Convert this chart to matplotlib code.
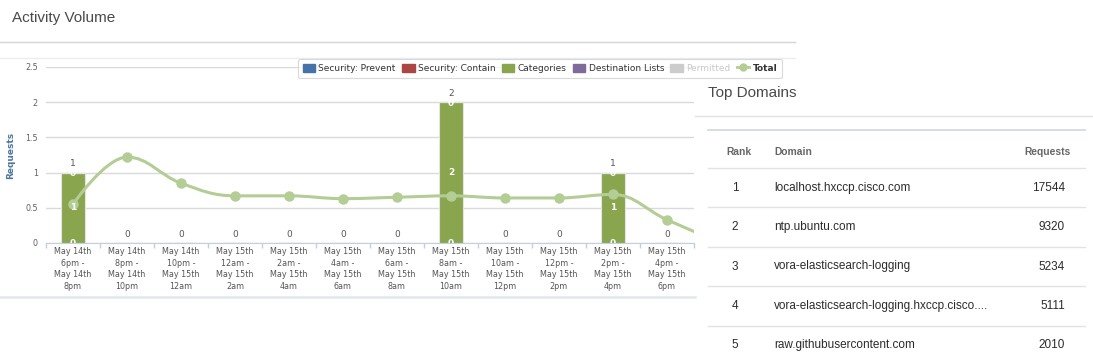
import numpy as np
import matplotlib
matplotlib.use('Agg')
import matplotlib.pyplot as plt
from matplotlib.path import Path
from matplotlib.patches import PathPatch, Patch
from matplotlib.lines import Line2D

# screenshot size in pixels
W, H = 1093, 361

# activity volume chart data
time_slots = ['May 14th\n6pm -\nMay 14th\n8pm', 'May 14th\n8pm -\nMay 14th\n10pm',
              'May 14th\n10pm -\nMay 15th\n12am', 'May 15th\n12am -\nMay 15th\n2am',
              'May 15th\n2am -\nMay 15th\n4am', 'May 15th\n4am -\nMay 15th\n6am',
              'May 15th\n6am -\nMay 15th\n8am', 'May 15th\n8am -\nMay 15th\n10am',
              'May 15th\n10am -\nMay 15th\n12pm', 'May 15th\n12pm -\nMay 15th\n2pm',
              'May 15th\n2pm -\nMay 15th\n4pm', 'May 15th\n4pm -\nMay 15th\n6pm']
security_prevent = [0, 0, 0, 0, 0, 0, 0, 0, 0, 0, 0, 0]
security_contain = [0, 0, 0, 0, 0, 0, 0, 0, 0, 0, 0, 0]
categories = [1, 0, 0, 0, 0, 0, 0, 2, 0, 0, 1, 0]
destination_lists = [0, 0, 0, 0, 0, 0, 0, 0, 0, 0, 0, 0]
permitted = [0, 0, 0, 0, 0, 0, 0, 0, 0, 0, 0, 0]
total = [0.55, 1.22, 0.85, 0.67, 0.67, 0.63, 0.65, 0.67, 0.64, 0.64, 0.69, 0.33]
total_next = 0.0   # next point, past the right edge of the chart

# top domains table data
ranks = [1, 2, 3, 4, 5]
domains = ['localhost.hxccp.cisco.com', 'ntp.ubuntu.com', 'vora-elasticsearch-logging',
           'vora-elasticsearch-logging.hxccp.cisco....', 'raw.githubusercontent.com']
requests = [17544, 9320, 5234, 5111, 2010]

series_names = ['Security: Prevent', 'Security: Contain', 'Categories', 'Destination Lists', 'Permitted']
series_colors = ['#4572A7', '#AA4643', '#89A54E', '#80699B', '#cccccc']
total_color = '#b3cd95'


# highcharts-like spline path through the points
def spline_path(xs, ys, smoothing=1.5):
    denom = smoothing + 1
    n = len(xs)
    left = [None] * n
    right = [None] * n
    for i in range(1, n - 1):
        lx, ly = xs[i - 1], ys[i - 1]
        nx, ny = xs[i + 1], ys[i + 1]
        px, py = xs[i], ys[i]
        lcx = (smoothing * px + lx) / denom
        lcy = (smoothing * py + ly) / denom
        rcx = (smoothing * px + nx) / denom
        rcy = (smoothing * py + ny) / denom
        corr = (rcy - lcy) * (rcx - px) / (rcx - lcx) + py - rcy
        lcy += corr
        rcy += corr
        if lcy > ly and lcy > py:
            lcy = max(ly, py)
            rcy = 2 * py - lcy
        elif lcy < ly and lcy < py:
            lcy = min(ly, py)
            rcy = 2 * py - lcy
        if rcy > ny and rcy > py:
            rcy = max(ny, py)
            lcy = 2 * py - rcy
        elif rcy < ny and rcy < py:
            rcy = min(ny, py)
            lcy = 2 * py - rcy
        left[i] = (lcx, lcy)
        right[i] = (rcx, rcy)
    verts = [(xs[0], ys[0])]
    codes = [Path.MOVETO]
    for i in range(1, n):
        c1 = right[i - 1] or (xs[i - 1], ys[i - 1])
        c2 = left[i] or (xs[i], ys[i])
        verts += [c1, c2, (xs[i], ys[i])]
        codes += [Path.CURVE4] * 3
    return Path(verts, codes)


fig = plt.figure(figsize=(W / 100, H / 100), dpi=100)

# background layer in pixel coordinates for headings, panels and table
bg = fig.add_axes([0, 0, 1, 1], zorder=0)
bg.set_xlim(0, W)
bg.set_ylim(H, 0)
bg.axis('off')

bg.text(12, 18, 'Activity Volume', fontsize=11, color='#4a4a4a', family='Liberation Sans', va='center')
bg.plot([0, 795], [41.5, 41.5], color='#d6d6d6', lw=1)
bg.plot([0, 795], [57.5, 57.5], color='#e9edf1', lw=1)
bg.plot([0, 695], [296.5, 296.5], color='#e3e8ee', lw=1.8)

# top domains panel
bg.text(708, 93, 'Top Domains', fontsize=11, color='#4a4a4a', family='Liberation Sans', va='center')
bg.plot([695, W], [116, 116], color='#e2e2e2', lw=1)
bg.plot([708, 1085], [129.5, 129.5], color='#d3dae2', lw=1.3)
hdr = dict(fontsize=7.4, color='#666666', family='Liberation Sans', weight='bold', va='center')
bg.text(739, 152, 'Rank', ha='center', **hdr)
bg.text(774, 152, 'Domain', ha='left', **hdr)
bg.text(1071, 152, 'Requests', ha='right', **hdr)
row_h = 39.4
for i, (r, d, q) in enumerate(zip(ranks, domains, requests)):
    y_line = 168 + i * row_h
    bg.plot([708, 1085], [y_line, y_line], color='#e3e3e3', lw=1)
    y_txt = y_line + row_h / 2
    cell = dict(fontsize=8.5, color='#2b2b2b', family='Liberation Sans', va='center')
    bg.text(735, y_txt, str(r), ha='center', **cell)
    bg.text(774, y_txt, d, ha='left', **cell)
    bg.text(1065, y_txt, str(q), ha='right', **cell)

# chart
ax = fig.add_axes([46 / W, 1 - 243 / H, 648 / W, 176 / H], zorder=1)
ax.set_facecolor('none')
x = np.arange(len(time_slots))

bottom = np.zeros(len(x))
stack = [security_prevent, security_contain, categories, destination_lists, permitted]
for vals, col in zip(stack, series_colors):
    ax.bar(x, vals, width=0.46, bottom=bottom, color=col, edgecolor='#e4e4e4', linewidth=0.8, zorder=2)
    bottom = bottom + np.array(vals)

# data labels
for xi, v in zip(x, categories):
    ax.annotate(str(int(v)), (xi, v), xytext=(0, 6.3), textcoords='offset points',
                ha='center', va='center', fontsize=6.5, color='#555555', zorder=5)
    if v > 0:
        ax.annotate('0', (xi, v), xytext=(0, -1), textcoords='offset points',
                    ha='center', va='center', fontsize=6.5, color='white', weight='bold', zorder=5)
        ax.text(xi, v / 2, str(int(v)), ha='center', va='center', fontsize=6.5,
                color='white', weight='bold', zorder=5)
        ax.annotate('0', (xi, 0), xytext=(0, -0.3), textcoords='offset points',
                    ha='center', va='center', fontsize=6.5, color='white', weight='bold', zorder=5,
                    clip_on=True)

# total spline
xs = list(x) + [len(x)]
ys = total + [total_next]
ax.add_patch(PathPatch(spline_path(xs, ys), facecolor='none', edgecolor=total_color, lw=2.2, zorder=3))
ax.plot(x, total, 'o', color=total_color, markersize=6.5, zorder=4)

ax.set_xlim(-0.5, len(x) - 0.5)
ax.set_ylim(0, 2.5)
ax.set_yticks(np.arange(0, 2.51, 0.5))
ax.set_yticklabels(['0', '0.5', '1', '1.5', '2', '2.5'])
ax.yaxis.grid(True, color='#dadada', lw=1)
ax.set_axisbelow(True)
ax.set_xticks(x)
ax.set_xticklabels(time_slots, linespacing=1.36)
ax.set_xticks(np.arange(-0.5, len(x), 1), minor=True)
ax.tick_params(axis='x', which='major', length=0, pad=3, labelsize=5.8, labelcolor='#555555')
ax.tick_params(axis='x', which='minor', length=3.5, color='#c0d0e0', width=1)
ax.tick_params(axis='y', length=0, pad=6, labelsize=5.8, labelcolor='#606060')
for s in ['top', 'right', 'left']:
    ax.spines[s].set_visible(False)
ax.spines['bottom'].set_color('#c0d0e0')
ax.set_ylabel('Requests', fontsize=6.5, weight='bold', color='#4d759e')
ax.yaxis.set_label_coords(-0.048, 0.5)

# legend
handles = [Patch(facecolor=c, edgecolor=c) for c in series_colors]
handles.append(Line2D([], [], color=total_color, lw=2, marker='o', markersize=5))
labels = series_names + ['Total']
leg = fig.legend(handles, labels, loc='center', bbox_to_anchor=(540 / W, 1 - 68.5 / H), ncol=6,
                 fontsize=6.5, frameon=True, fancybox=True, handlelength=1.4, handleheight=1.0,
                 handletextpad=0.35, columnspacing=0.7, borderpad=0.5)
leg.get_frame().set_edgecolor('#d0d0d0')
leg.get_frame().set_linewidth(0.8)
leg.set_zorder(10)
for t in leg.get_texts():
    t.set_color('#333333')
leg.get_texts()[4].set_color('#c8c8c8')
leg.get_texts()[5].set_weight('bold')

fig.savefig('out.png', dpi=100)
